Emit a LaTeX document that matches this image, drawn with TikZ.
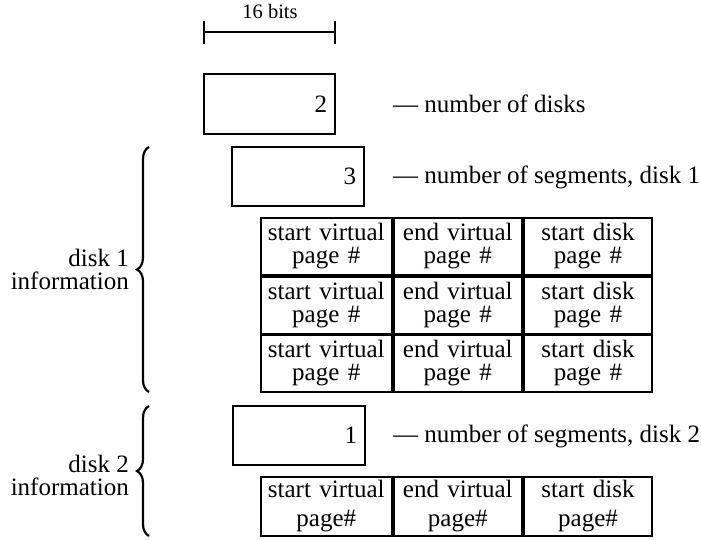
\documentclass[tikz,border=0pt]{standalone}
\usepackage{fontspec}
\setmainfont{Liberation Serif}
\usetikzlibrary{decorations.pathreplacing}
\begin{document}
\begin{tikzpicture}[x=1pt,y=-1pt,
  txt/.style={inner sep=0pt, font=\fontsize{25}{23}\selectfont},
  small/.style={inner sep=0pt, font=\fontsize{20.5}{24}\selectfont},
  numbox/.style={txt, draw, line width=2.2pt, inner xsep=8pt, text width=116pt,
    align=right, minimum height=59pt},
  cell/.style={txt, draw, line width=2pt, align=center, minimum height=57pt},
  cellb/.style={cell, font=\fontsize{25}{29}\selectfont, minimum height=59pt},
  lbl/.style={txt, align=right},
  curly/.style={decorate, decoration={brace, amplitude=12pt}, line width=2.2pt},
  rule/.style={line width=2.5pt}]
\useasboundingbox (0,0) rectangle (701,539);

% width scale: 16 bits
\node[small, anchor=base] (bits) at (270,18) {16 bits};
\coordinate (barL) at (204,32);
\coordinate (barR) at (335,32);
\draw[rule] (barL) -- (barR);
\draw[rule] ([yshift=11.5pt]barL) -- ([yshift=-11.5pt]barL);
\draw[rule] ([yshift=11.5pt]barR) -- ([yshift=-11.5pt]barR);

% single-word fields
\node[numbox, minimum height=60pt, text width=115pt] (ndisks) at (269.5,104) {2};
\node[numbox] (nseg1) at (298,176.5) {3};
\node[numbox] (nseg2) at (299,435.5) {1};

\node[txt, anchor=base west] (dndisks) at (393,112) {— number of disks};
\node[txt, anchor=base west] (dnseg1) at (393,183) {— number of segments, disk 1};
\node[txt, anchor=base west] (dnseg2) at (393,442) {— number of segments, disk 2};

% segment table, disk 1
\foreach \r/\cy in {1/246.5, 2/305, 3/363.5} {
  \node[cell, text width=130.5pt] (ta\r) at (326.25,\cy) {start virtual\\page \#};
  \node[cell, text width=128.5pt] (tb\r) at (457.75,\cy) {end virtual\\page \#};
  \node[cell, text width=128pt]   (tc\r) at (588,\cy) {start disk\\page \#};
}

% segment table, disk 2
\node[cellb, text width=130.5pt] (ua) at (326.25,506.5) {start virtual\\page\#};
\node[cellb, text width=128.5pt] (ub) at (457.75,506.5) {end virtual\\page\#};
\node[cellb, text width=128pt]   (uc) at (588,506.5) {start disk\\page\#};

% braces and their labels
\coordinate (b1top) at (149,147);
\coordinate (b1bot) at (149,392);
\coordinate (b2top) at (149,406);
\coordinate (b2bot) at (149,536);
\draw[curly] (b1bot) -- (b1top);
\draw[curly] (b2bot) -- (b2top);
\node[lbl, anchor=east] (lab1) at (129,269) {disk 1\\information};
\node[lbl, anchor=east] (lab2) at (129,475) {disk 2\\information};
\end{tikzpicture}
\end{document}
